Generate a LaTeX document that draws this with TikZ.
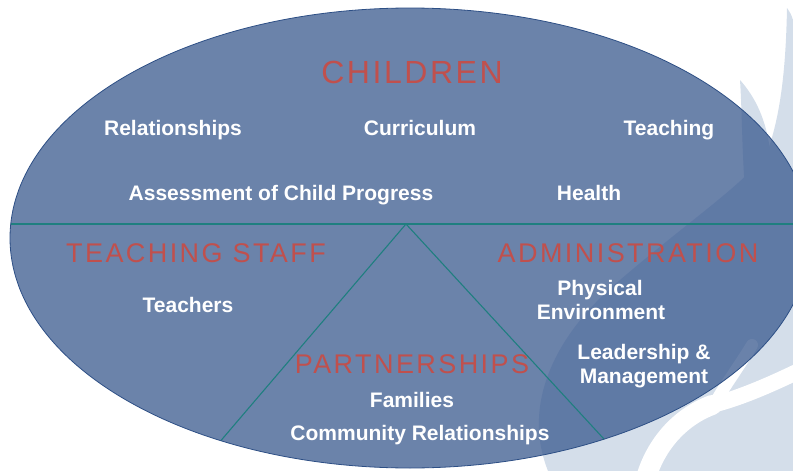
\documentclass[tikz,border=0pt]{standalone}
\usepackage{fontspec}
\setmainfont{Liberation Sans}
\definecolor{headred}{RGB}{192,80,77}
\definecolor{ovalblue}{RGB}{57,89,142}
\definecolor{ovalrim}{RGB}{45,79,133}
\definecolor{divteal}{RGB}{31,127,127}
\definecolor{markblue}{RGB}{212,222,234}
\tikzset{
  heading/.style={anchor=base,text=headred,inner sep=0pt,
    font=\fontsize{27}{30}\selectfont\addfontfeature{LetterSpace=9}},
  bigheading/.style={heading,
    font=\fontsize{32}{36}\selectfont\addfontfeature{LetterSpace=8}},
  item/.style={anchor=base,text=white,inner sep=0pt,align=center,
    font=\fontsize{21}{24}\selectfont\bfseries},
  divider/.style={draw=divteal,line width=1.1pt},
  swoosh/.style={draw=white,line cap=round}
}
\begin{document}
\begin{tikzpicture}[x=1pt,y=-1pt]
  \useasboundingbox (0,0) rectangle (793,471);
  % watermark behind the oval
  \fill[markblue] (548,471) .. controls (520,400) and (560,330) .. (620,280)
    .. controls (690,220) and (750,180) .. (768,150)
    .. controls (782,110) and (786,60) .. (787,8)
    .. controls (791,14) .. (793,20) -- (793,471) -- cycle;
  \fill[markblue] (740,80) .. controls (756,98) and (766,120) .. (770,150)
    -- (745,190) .. controls (742,150) and (742,110) .. (740,80) -- cycle;
  \draw[swoosh,line width=20pt] (644,485) .. controls (655,440) and (685,415) .. (712,405);
  \draw[swoosh,line width=16pt] (712,405) .. controls (740,398) and (770,385) .. (805,368);
  \draw[swoosh,line width=12pt] (712,408) .. controls (725,385) and (740,365) .. (752,345);
  % oval
  \fill[ovalblue,fill opacity=0.75] (410,238) ellipse [x radius=400pt,y radius=230pt];
  \coordinate (apex) at (406,224);
  \coordinate (leftfoot) at (212,451);
  \coordinate (rightfoot) at (615,451);
  \coordinate (westend) at (0,224);
  \coordinate (eastend) at (800,224);
  \begin{scope}
    \clip (410,238) ellipse [x radius=400pt,y radius=230pt];
    \draw[divider] (westend) -- (eastend);
    \draw[divider] (apex) -- (leftfoot);
    \draw[divider] (apex) -- (rightfoot);
  \end{scope}
  \draw[ovalrim,line width=0.8pt] (410,238) ellipse [x radius=400pt,y radius=230pt];
  % headings and items
  \draw
    (412,83) node[bigheading] (children){CHILDREN}
    (196,262) node[heading] (staff){TEACHING STAFF}
    (628,262) node[heading] (admin){ADMINISTRATION}
    (412,373) node[heading] (partners){PARTNERSHIPS};
  \draw
    (173,135) node[item] (relations){Relationships}
    (420,135) node[item] (curriculum){Curriculum}
    (669,135) node[item] (teaching){Teaching}
    (281,200) node[item] (assessment){Assessment of Child Progress}
    (589,200) node[item] (health){Health}
    (188,312) node[item] (teachers){Teachers}
    (600,295) node[item] (physical){Physical}
    (601,319) node[item] (environment){Environment}
    (644,359) node[item] (leadership){Leadership \&}
    (644,383) node[item] (management){Management}
    (412,407) node[item] (families){Families}
    (420,440) node[item] (community){Community Relationships};
\end{tikzpicture}
\end{document}
